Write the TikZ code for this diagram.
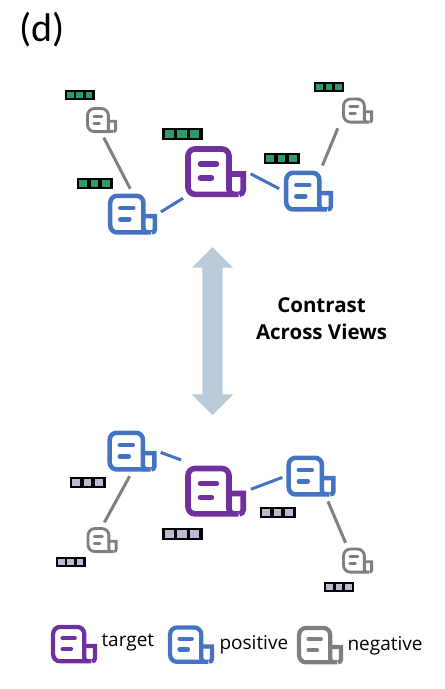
\documentclass[tikz,border=0pt]{standalone}
\usepackage{fontspec}
\setmainfont{Open Sans}
\newfontfamily\titlefont{Carlito}
\usetikzlibrary{shapes.arrows}

\definecolor{targetc}{HTML}{7030A0}
\definecolor{positivec}{HTML}{4472C4}
\definecolor{negativec}{HTML}{7F7F7F}
\definecolor{viewa}{HTML}{2E9C6A}
\definecolor{viewb}{HTML}{C2B6D2}
\definecolor{arrowc}{HTML}{B9CAD8}

\tikzset{
    docbody/.pic={
        % page and rolled corner, box is 61 x 51
        \draw[rounded corners=7pt] (13.5,3) -- (13.5,-22.5) -- (-27.5,-22.5) -- (-27.5,22.8) -- (23,22.8);
        \draw (13.5,2.5) -- (27.7,2.5) -- (27.7,18.8) arc (0:90:4);
        \draw (13.5,2) -- (13.5,18) to[out=-90,in=180] (18,22.8);
        \draw[line cap=round] (-15,-7.5) -- (1,-7.5);
        \draw[line cap=round] (-15,6.5) -- (-4,6.5);
    },
    docnode/.style={draw=none, inner sep=0pt, minimum width=#1*61pt, minimum height=#1*51pt},
    link/.style={line width=3pt, shorten >=5pt, shorten <=5pt},
    poslink/.style={link, positivec},
    neglink/.style={link, negativec},
    legendtext/.style={font=\fontsize{19}{22}\selectfont, anchor=west}
}

% icon: name, centre, scale, colour
\newcommand{\docicon}[4]{
    \node[docnode=#3] (#1) at (#2) {};
    \pic[draw=#4, line width=#3*5.6pt, scale=#3] at (#2) {docbody};
}
% feature bar: name, centre, width, height, colour
\newcommand{\featbar}[5]{
    \node[fill=black, inner sep=0pt, minimum width=#3pt, minimum height=#4pt] (#1) at (#2) {};
    \foreach \k in {-1,0,1} {
        \node[fill=#5, inner sep=0pt, minimum width=0.22*#3pt, minimum height=#4pt-4pt] at ([xshift=\k*0.31*#3pt]#1.center) {};
    }
}

\begin{document}
\begin{tikzpicture}[x=1pt, y=-1pt]
\useasboundingbox (0,0) rectangle (445,689);

\node[font=\titlefont\fontsize{40}{44}\selectfont] (title) at (42,30) {(d)};

% Upper view
\docicon{g1}{101.5,120}{0.51}{negativec}
\docicon{p1}{132.5,214}{0.81}{positivec}
\docicon{t1}{215.5,171.5}{1}{targetc}
\docicon{p2}{308.5,191}{0.81}{positivec}
\docicon{g2}{357.5,110.5}{0.51}{negativec}

\featbar{f1}{79.5,94.5}{30}{10}{viewa}
\featbar{f2}{94.5,183}{36}{11}{viewa}
\featbar{f3}{182,133.5}{41}{12}{viewa}
\featbar{f4}{281.5,158}{36}{11}{viewa}
\featbar{f5}{329,86.5}{30}{10}{viewa}

\draw[neglink] (g1.south) -- (p1.north);
\draw[poslink, shorten <=2pt, shorten >=4pt] (t1.south west) -- (p1.east);
\draw[poslink] (t1.east) -- (p2.west);
\draw[neglink] ([xshift=12pt]p2.north) -- ([xshift=-2pt]g2.south west);

% Contrast arrow
\node[double arrow, rotate=90, fill=arrowc, inner sep=0pt, minimum width=41pt, minimum height=168pt,
    double arrow head extend=10.5pt, double arrow head indent=0pt] (contrast) at (212.5,331) {\rule{0pt}{20pt}};
\node[font=\fontsize{20.5}{27}\selectfont\bfseries, align=center] (label) at (321.5,319) {Contrast\\Across Views};

% Lower view
\docicon{p3}{132,451}{0.81}{positivec}
\docicon{t2}{215.5,491}{1}{targetc}
\docicon{p4}{311,476}{0.81}{positivec}
\docicon{g3}{102,540}{0.51}{negativec}
\docicon{g4}{357.5,560.5}{0.51}{negativec}

\featbar{f6}{87.5,482}{36}{11}{viewb}
\featbar{f7}{182,533.5}{41}{12}{viewb}
\featbar{f8}{277.5,512}{36}{11}{viewb}
\featbar{f9}{70.5,561.5}{30}{10}{viewb}
\featbar{f10}{339,586.5}{30}{10}{viewb}

\draw[neglink] (p3.south) -- (g3.north);
\draw[poslink, shorten <=4pt, shorten >=4pt] (p3.east) -- ([yshift=4pt]t2.north west);
\draw[poslink, shorten >=4pt] (t2.east) -- (p4.west);
\draw[neglink] ([xshift=15pt]p4.south) -- ([xshift=-10pt]g4.north);

% Legend
\docicon{lt}{74,644}{0.76}{targetc}
\docicon{lp}{191,644.5}{0.76}{positivec}
\docicon{ln}{320,645}{0.76}{negativec}
\node[legendtext] (lta) at (98,643) {target};
\node[legendtext] (lpa) at (216,645) {positive};
\node[legendtext] (lna) at (344,646) {negative};
\end{tikzpicture}
\end{document}
